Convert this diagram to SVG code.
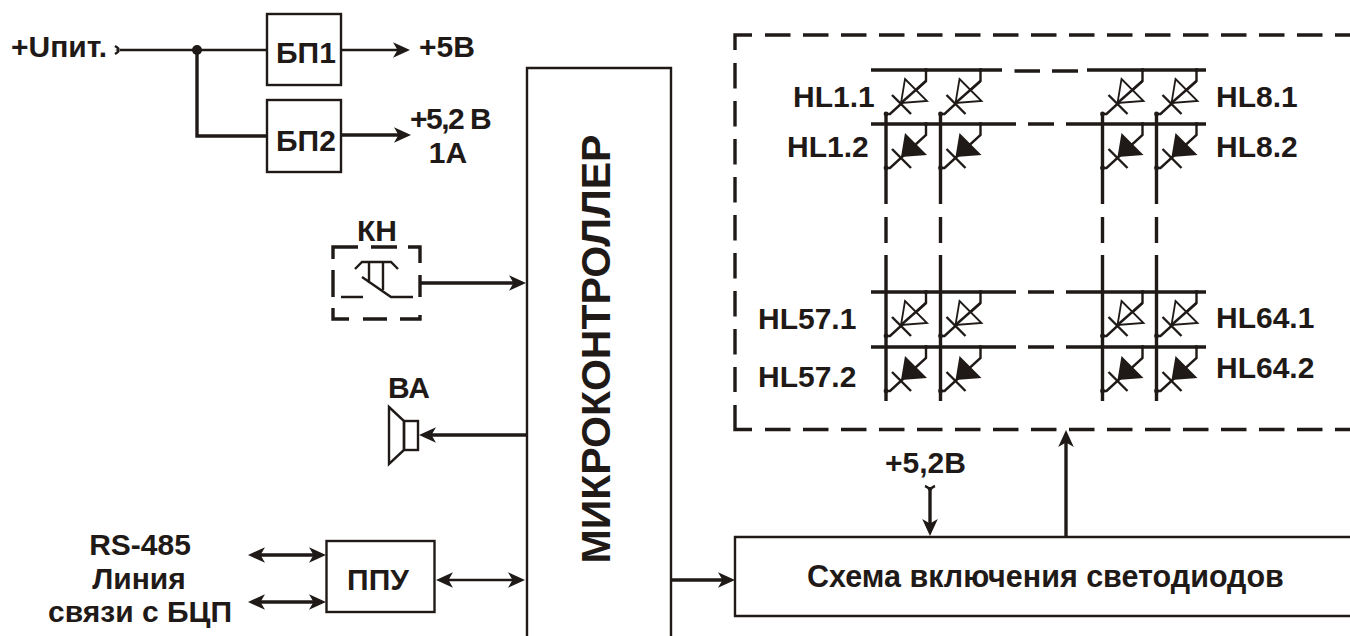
<svg xmlns="http://www.w3.org/2000/svg" width="1350" height="636" viewBox="0 0 1350 636">
<style>
text{font-family:"Liberation Sans",Arial,sans-serif;font-weight:700;font-size:30px;fill:#1f1a17}
.m{text-anchor:middle}
.box{fill:none;stroke:#1f1a17;stroke-width:2.4}
.l2{fill:none;stroke:#1f1a17;stroke-width:2.4}
.l3{fill:none;stroke:#1f1a17;stroke-width:3.4}
.dash{fill:none;stroke:#1f1a17;stroke-width:3.4;stroke-dasharray:25.5 12.5}
.bus{fill:none;stroke:#1f1a17;stroke-width:3.4}
.end{marker-end:url(#a)}
.both{marker-end:url(#a);marker-start:url(#a)}
</style>
<defs>
<marker id="a" markerUnits="userSpaceOnUse" markerWidth="20" markerHeight="18" refX="12" refY="9" orient="auto-start-reverse" overflow="visible">
<path d="M17 9L0 1.2L4.5 9L0 16.800Z" fill="#1f1a17"/>
</marker>
<g id="dbase">
<path d="M40 0V11L4 44H0" class="l2"/>
<path d="M6 25L25 44" class="l2"/>
<circle cx="0" cy="44" r="2.4" fill="#1f1a17"/>
<circle cx="40" cy="0" r="2" fill="#1f1a17"/>
</g>
<g id="open"><use href="#dbase"/><path d="M19 9L41 31L15 33Z" fill="#fff" stroke="#1f1a17" stroke-width="1.8"/><path d="M40 11L15 33" class="l2"/></g>
<g id="solid"><use href="#dbase"/><path d="M19 9L41 31L15 33Z" fill="#1f1a17"/></g>
</defs>
<rect width="1350" height="636" fill="#fff"/>

<g id="connectors">
<path class="l2" d="M120 50H267"/>
<path class="l2" d="M115 46Q120 49 118 50Q120 51 115 54"/>
<circle cx="197" cy="50" r="5" fill="#1f1a17"/>
<path class="l3" d="M197 50V136H267"/>
<path class="l2 end" d="M341 50H405"/>
<path class="l3 end" d="M341 135H406"/>
<path class="l3 end" d="M420 283H521"/>
<path class="l3 end" d="M526 435H424"/>
<path class="l3 both" d="M253 555H321"/>
<path class="l3 both" d="M253 602H321"/>
<path class="l2 both" d="M441 580H520"/>
<path class="l3 end" d="M671 580H730"/>
<path class="l3 end" d="M930 487V531"/>
<path class="l2" d="M925 486Q928 487 930 490Q932 487 935 486"/>
<path class="l3 end" d="M1066 537V435"/>
</g>

<g id="bp1"><rect class="box" x="267" y="14" width="74" height="71"/><text x="276" y="63">БП1</text></g>
<g id="bp2"><rect class="box" x="267" y="100" width="74" height="72"/><text x="276" y="151">БП2</text></g>
<g id="micro"><path class="box" d="M527 636V68H671V636"/><text class="m" transform="translate(610 349) rotate(-90)" style="font-size:41px">МИКРОКОНТРОЛЛЕР</text></g>
<g id="ppu"><rect class="box" x="326.500" y="541" width="108" height="71"/><text class="m" x="378" y="590">ППУ</text></g>
<g id="scheme"><path class="box" d="M1350 537H735V616H1350"/><text x="807" y="587" style="font-size:30.500px">Схема включения светодиодов</text></g>

<g id="kn">
<path class="l3" d="M333 259V247H358M371 247H397M408 247H420V263M420 275V297M420 315V319H400M387 319H363M349 319H333V308M333 297V270"/>
<path class="l2" d="M355 269L362 262H391L398 269M369 262V283M383 262V290M362 277L391 297H413M341 297H363"/>
<text class="m" x="377" y="241">КН</text>
</g>
<g id="ba">
<path class="l2" d="M389 407L404 421V450L389 464Z"/>
<rect class="l2" x="404" y="421" width="14" height="29"/>
<text class="m" x="409" y="398">ВА</text>
</g>

<g id="led-frame">
<path class="l3" d="M752 35H735V50"/>
<path class="dash" d="M765 35H1350"/>
<path class="dash" d="M735 63V392"/>
<path class="l3" d="M735 405V429.500H752"/>
<path class="dash" d="M765 429.500H1350"/>
</g>

<g id="led-matrix">
<path class="bus" d="M871 70H1002M1014.500 71H1040M1052 71H1078M1087 70H1206"/>
<path class="bus" d="M871 124H1016M1028 124H1054M1066 124H1206"/>
<path class="bus" d="M871 292H1016M1028 292H1054M1066 292H1206"/>
<path class="bus" d="M871 347H1016M1028 347H1054M1066 347H1206"/>
<path class="bus" d="M886 114V204M886 217V243M886 255V401M940.500 114V204M940.500 217V243M940.500 255V401M1102.500 114V204M1102.500 217V243M1102.500 255V401M1156.500 114V204M1156.500 217V243M1156.500 255V401"/>
<g id="row1"><use href="#open" x="886" y="70"/><use href="#open" x="940.500" y="70"/><use href="#open" x="1102.500" y="70"/><use href="#open" x="1156.500" y="70"/></g>
<g id="row2"><use href="#solid" x="886" y="124"/><use href="#solid" x="940.500" y="124"/><use href="#solid" x="1102.500" y="124"/><use href="#solid" x="1156.500" y="124"/></g>
<g id="row3"><use href="#open" x="886" y="292"/><use href="#open" x="940.500" y="292"/><use href="#open" x="1102.500" y="292"/><use href="#open" x="1156.500" y="292"/></g>
<g id="row4"><use href="#solid" x="886" y="347"/><use href="#solid" x="940.500" y="347"/><use href="#solid" x="1102.500" y="347"/><use href="#solid" x="1156.500" y="347"/></g>
</g>

<g id="labels">
<text x="11" y="57">+Uпит.</text>
<text x="419" y="57">+5В</text>
<text x="410" y="129" style="letter-spacing:-1.5px">+5,2 В</text>
<text class="m" x="448" y="163">1А</text>
<text x="885" y="473">+5,2В</text>
<text class="m" x="140" y="555">RS-485</text>
<text class="m" x="139" y="589">Линия</text>
<text class="m" x="140" y="622">связи с БЦП</text>
<text x="793" y="107">HL1.1</text>
<text x="787" y="157">HL1.2</text>
<text x="1216" y="107">HL8.1</text>
<text x="1216" y="157">HL8.2</text>
<text x="758" y="329">HL57.1</text>
<text x="758" y="387">HL57.2</text>
<text x="1216" y="328">HL64.1</text>
<text x="1216" y="378">HL64.2</text>
</g>
</svg>
